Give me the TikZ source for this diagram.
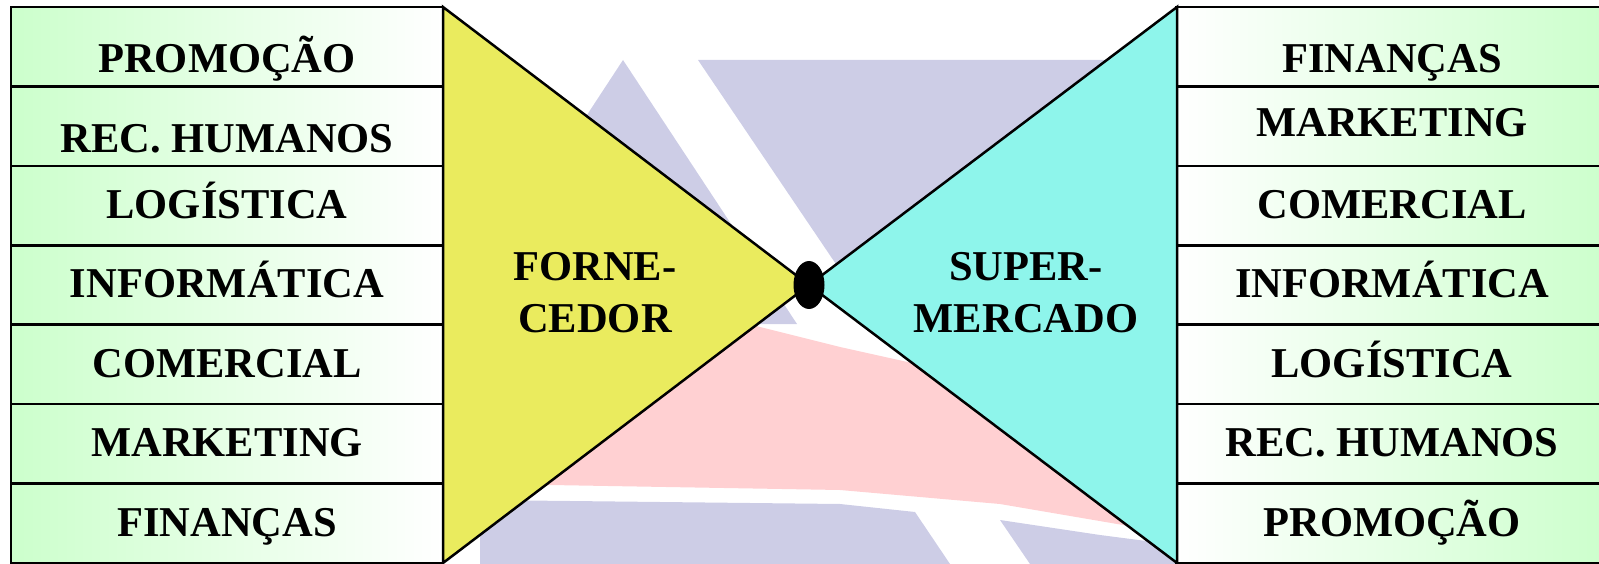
\documentclass[tikz,border=0pt]{standalone}
\usepackage{fontspec}
\setmainfont{Liberation Serif}
\usetikzlibrary{shapes.geometric}
\definecolor{rowgreen}{RGB}{204, 255, 204}
\definecolor{fornyellow}{RGB}{234, 235, 94}
\definecolor{supercyan}{RGB}{142, 245, 235}
\definecolor{markblue}{RGB}{205, 205, 230}
\definecolor{markpink}{RGB}{255, 208, 210}

\tikzset{
  rowbox/.style={draw, line width=2.5pt, minimum width=432pt, minimum height=79.43pt, inner sep=0pt},
  leftrow/.style={rowbox, left color=rowgreen, middle color=rowgreen!85!white, right color=white},
  rightrow/.style={rowbox, left color=white, middle color=rowgreen!85!white, right color=rowgreen},
  rowtext/.style={anchor=base, inner sep=0pt, font=\fontsize{42.5}{52}\selectfont\bfseries},
}

\begin{document}
\begin{tikzpicture}[x=1pt, y=-1pt]
    % Dimensions
    \def\ytop{7}     % top edge of the rows
    \def\rh{79.43}   % row height
    \def\xl{227}     % centre of the left column
    \def\xr{1392}    % centre of the right column

    \useasboundingbox (0,0) rectangle (1599,564);

    % 1. Faded background shapes
    \fill[markblue] (623,60) -- (797,324) -- (450,324) -- cycle;
    \fill[markblue] (698,60) -- (1177,60) -- (1177,350) -- (894,350) -- cycle;
    \fill[markpink] (700,312) -- (760,327) -- (840,347) -- (912,363) -- (1000,385) -- (1150,420)
        -- (1150,532) -- (1123,525) -- (1000,504) -- (840,490) -- (550,485) -- (480,485) -- cycle;
    \fill[markblue] (480,500) -- (840,504) -- (915,512) -- (950,564) -- (480,564) -- cycle;
    \fill[markblue] (1000,520) -- (1100,535) -- (1177,545) -- (1177,564) -- (1030,564) -- cycle;

    % 2. Department rows
    \foreach \t/\yc [count=\i] in {PROMOÇÃO/58.5, REC. HUMANOS/138, LOGÍSTICA/204, INFORMÁTICA/283.5,
        COMERCIAL/363, MARKETING/442.6, FINANÇAS/522}{
        \node[leftrow] (L\i) at (\xl, {\ytop+\rh*(\i-0.5)}) {};
        \node[rowtext] (LT\i) at (\xl, {\yc+14.2}) {\t};
    }
    \foreach \t/\yc [count=\i] in {FINANÇAS/58, MARKETING/122.4, COMERCIAL/204, INFORMÁTICA/283.5,
        LOGÍSTICA/363, REC. HUMANOS/442.6, PROMOÇÃO/522}{
        \node[rightrow] (R\i) at (\xr, {\ytop+\rh*(\i-0.5)}) {};
        \node[rowtext] (RT\i) at (\xr, {\yc+14.2}) {\t};
    }

    % 3. Coordinates
    \coordinate (FT) at (443,7);    % supplier top
    \coordinate (FB) at (443,563);  % supplier bottom
    \coordinate (ST) at (1177,7);   % market top
    \coordinate (SB) at (1177,563); % market bottom
    \coordinate (K) at (809,285);   % meeting point

    % 4. Triangles and the knot
    \draw[fill=fornyellow, line width=2.5pt] (FT) -- (K) -- (FB) -- cycle;
    \draw[fill=supercyan, line width=2.5pt] (ST) -- (K) -- (SB) -- cycle;
    \node[ellipse, fill=black, minimum width=31pt, minimum height=48pt, inner sep=0pt] (knot) at (K) {};

    % 5. Centre labels (anchored on the second line)
    \node[rowtext, align=center] (forn) at (595,332) {FORNE-\\CEDOR};
    \node[rowtext, align=center] (super) at (1026,332) {SUPER-\\MERCADO};
\end{tikzpicture}
\end{document}
